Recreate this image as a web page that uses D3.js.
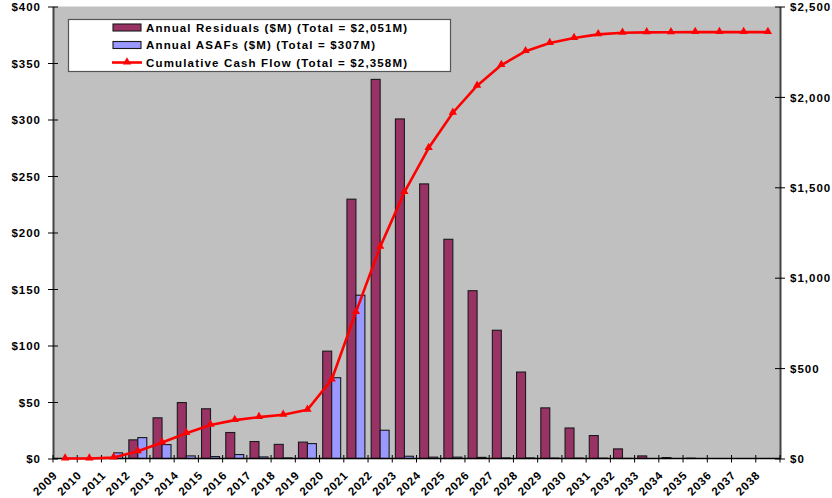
<!DOCTYPE html>
<html>
<head>
<meta charset="utf-8">
<script src="https://cdn.jsdelivr.net/npm/d3@7/dist/d3.min.js"></script>
<style>
  html, body { margin: 0; padding: 0; background: #ffffff; }
  svg { display: block; }
  text { font-family: "Liberation Sans", Arial, sans-serif; font-weight: bold; fill: #000; }
</style>
</head>
<body>
<svg id="chart" width="832" height="498"></svg>
<script>
// Category years along the x axis
const years = ["2009","2010","2011","2012","2013","2014","2015","2016","2017","2018",
               "2019","2020","2021","2022","2023","2024","2025","2026","2027","2028",
               "2029","2030","2031","2032","2033","2034","2035","2036","2037","2038"];

// Annual residuals, $M (left axis)
const residuals = [0, 0, 0, 16.5, 36, 49.5, 44, 23, 15, 12.5,
                   14.5, 95, 229.5, 335.5, 300.5, 243, 194, 148.5, 113.5, 76.5,
                   44.8, 27, 20.3, 8.5, 2.3, 0.8, 0.3, 0, 0, 0];

// Annual ASAFs, $M (left axis)
const asafs = [0, 0, 5, 18.5, 12.3, 2.3, 1.7, 3.5, 1.4, 0.5,
               13.2, 71.5, 144.5, 25, 2, 1.2, 1.2, 1.0, 0.5, 0.5,
               0.4, 0.4, 0.3, 0.1, 0, 0, 0, 0, 0, 0];

// Cumulative cash flow, $M (right axis)
const cumulative = [0, 0, 5, 40, 88.3, 140.1, 185.8, 212.3, 228.7, 241.7,
                    269.4, 435.9, 809.9, 1170.4, 1472.9, 1717.1, 1912.3, 2061.8, 2175.8, 2252.8,
                    2298, 2325.4, 2346, 2354.6, 2356.9, 2357.7, 2358, 2358, 2358, 2358];

// Axis tick values
const leftTicks = [0, 50, 100, 150, 200, 250, 300, 350, 400];
const rightTicks = [0, 500, 1000, 1500, 2000, 2500];

// Legend entries
const legendLabels = ["Annual Residuals ($M) (Total = $2,051M)",
                      "Annual ASAFs ($M) (Total = $307M)",
                      "Cumulative Cash Flow (Total = $2,358M)"];

const svg = d3.select("#chart");
const plot = { left: 53, right: 780, top: 6.5, bottom: 458.5 };

const x = d3.scaleBand().domain(years).range([plot.left, plot.right]).paddingInner(0).paddingOuter(0);
const x1 = d3.scaleBand().domain(["res", "asaf"]).range([0, x.bandwidth()]).paddingInner(0).paddingOuter(0.35);
const yL = d3.scaleLinear().domain([0, 400]).range([plot.bottom, plot.top]);
const yR = d3.scaleLinear().domain([0, 2500]).range([plot.bottom, plot.top]);

// Plot background
svg.append("rect")
  .attr("x", plot.left).attr("y", plot.top)
  .attr("width", plot.right - plot.left).attr("height", plot.bottom - plot.top)
  .attr("fill", "#c0c0c0");

// Bars
const colors = { res: "#993366", asaf: "#9999ff" };
const barG = svg.append("g");
years.forEach((yr, i) => {
  [["res", residuals[i]], ["asaf", asafs[i]]].forEach(([k, v]) => {
    if (v <= 0) return;
    barG.append("rect")
      .attr("x", x(yr) + x1(k))
      .attr("y", yL(v))
      .attr("width", x1.bandwidth())
      .attr("height", yL(0) - yL(v))
      .attr("fill", colors[k])
      .attr("stroke", "#1a1a1a")
      .attr("stroke-width", 1.1);
  });
});

// Left axis
const gL = svg.append("g").attr("transform", `translate(${plot.left},0)`)
  .call(d3.axisLeft(yL).tickValues(leftTicks).tickFormat(d => "$" + d).tickSizeOuter(0));
gL.select(".domain").attr("stroke", "#444").attr("stroke-width", 2);
gL.selectAll(".tick line").attr("x1", -5).attr("x2", 5).attr("stroke", "#000");
gL.selectAll(".tick text").attr("x", -12).attr("dy", "0.36em")
  .style("font-size", "11.5px").style("letter-spacing", "1px");

// Right axis
const gR = svg.append("g").attr("transform", `translate(${plot.right},0)`)
  .call(d3.axisRight(yR).tickValues(rightTicks).tickFormat(d => "$" + d3.format(",")(d)).tickSizeOuter(0));
gR.select(".domain").attr("stroke", "#444").attr("stroke-width", 2);
gR.selectAll(".tick line").attr("x1", -5).attr("x2", 5).attr("stroke", "#000");
gR.selectAll(".tick text").attr("x", 10).attr("dy", "0.36em")
  .style("font-size", "11.5px").style("letter-spacing", "1px");

// Bottom axis: tick marks on category boundaries, rotated labels
const gB = svg.append("g");
gB.append("line")
  .attr("x1", plot.left).attr("x2", plot.right)
  .attr("y1", plot.bottom).attr("y2", plot.bottom)
  .attr("stroke", "#000").attr("stroke-width", 1.5);
years.concat(["end"]).forEach((yr, i) => {
  const bx = i < years.length ? x(yr) : plot.right;
  gB.append("line")
    .attr("x1", bx).attr("x2", bx)
    .attr("y1", plot.bottom - 3.5).attr("y2", plot.bottom + 4)
    .attr("stroke", "#000").attr("stroke-width", 1);
});
gB.selectAll("text.xl").data(years).join("text")
  .attr("class", "xl")
  .attr("transform", d => `translate(${x(d) + x.bandwidth() / 2 - 7},${476}) rotate(-45)`)
  .attr("text-anchor", "end")
  .style("font-size", "11.5px").style("letter-spacing", "0.8px")
  .text(d => d);

// Cumulative cash flow line with triangle markers
const line = d3.line()
  .x((d, i) => x(years[i]) + x.bandwidth() / 2)
  .y(d => yR(d));
svg.append("path")
  .datum(cumulative)
  .attr("d", line)
  .attr("fill", "none")
  .attr("stroke", "#ff0000")
  .attr("stroke-width", 2.6)
  .attr("stroke-linejoin", "round");
const tri = d3.symbol().type(d3.symbolTriangle).size(30);
svg.selectAll("path.mk").data(cumulative).join("path")
  .attr("class", "mk")
  .attr("d", tri)
  .attr("transform", (d, i) => `translate(${x(years[i]) + x.bandwidth() / 2},${yR(d) - 0.5})`)
  .attr("fill", "#ff0000");

// Legend
const lg = svg.append("g");
lg.append("rect")
  .attr("x", 68.5).attr("y", 19.5).attr("width", 382).attr("height", 52)
  .attr("fill", "#ffffff").attr("stroke", "#555").attr("stroke-width", 1.2);
const rowY = [27.5, 45, 62.5];
lg.append("rect").attr("x", 113).attr("y", rowY[0] - 3.5).attr("width", 28).attr("height", 7)
  .attr("fill", colors.res).attr("stroke", "#1a1a1a").attr("stroke-width", 1.1);
lg.append("rect").attr("x", 113).attr("y", rowY[1] - 3.5).attr("width", 28).attr("height", 7)
  .attr("fill", colors.asaf).attr("stroke", "#1a1a1a").attr("stroke-width", 1.1);
lg.append("line").attr("x1", 112).attr("x2", 142).attr("y1", rowY[2]).attr("y2", rowY[2])
  .attr("stroke", "#ff0000").attr("stroke-width", 2.6);
lg.append("path").attr("d", tri).attr("transform", `translate(127,${rowY[2] - 0.5})`).attr("fill", "#ff0000");
const textLens = [261, 229, 261];
legendLabels.forEach((t, i) => {
  lg.append("text")
    .attr("x", 146).attr("y", rowY[i]).attr("dy", "0.36em")
    .attr("textLength", textLens[i]).attr("lengthAdjust", "spacing")
    .style("font-size", "11.5px")
    .text(t);
});
</script>
</body>
</html>
